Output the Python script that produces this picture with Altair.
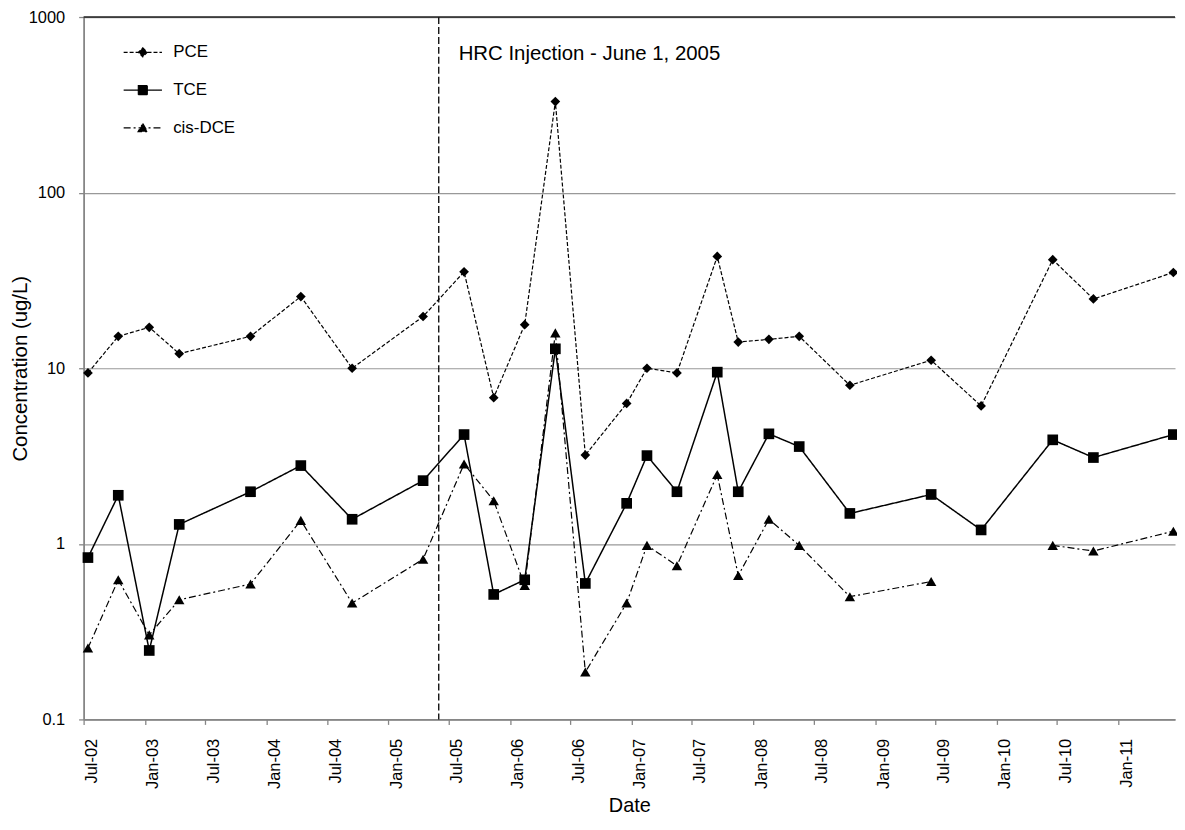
import altair as alt
import pandas as pd

# ---------------- data ----------------
DATES = ["2002-07-14", "2002-10-13", "2003-01-14", "2003-04-14", "2003-11-14",
         "2004-04-13", "2004-09-14", "2005-04-15", "2005-08-16", "2005-11-13",
         "2006-02-14", "2006-05-17", "2006-08-15", "2006-12-17", "2007-02-16",
         "2007-05-17", "2007-09-15", "2007-11-17", "2008-02-17", "2008-05-18",
         "2008-10-17", "2009-06-18", "2009-11-15", "2010-06-18", "2010-10-18",
         "2011-06-15"]
PCE = [9.4, 15.2, 17.1, 12.1, 15.2, 25.6, 10.0, 19.7, 35.4, 6.8, 17.7, 330,
       3.2, 6.3, 10.0, 9.4, 43.3, 14.1, 14.6, 15.2, 8.0, 11.1, 6.1, 41.5, 24.8, 35.1]
TCE = [0.835, 1.89, 0.247, 1.29, 1.98, 2.79, 1.38, 2.29, 4.19, 0.515, 0.624, 12.9,
       0.595, 1.70, 3.18, 1.98, 9.5, 1.98, 4.23, 3.58, 1.49, 1.91, 1.2, 3.91, 3.1, 4.19]
CIS_DCE = [0.255, 0.624, 0.303, 0.48, 0.59, 1.36, 0.46, 0.817, 2.85, 1.76, 0.58, 15.9,
           0.186, 0.46, 0.98, 0.75, 2.48, 0.66, 1.38, 0.98, 0.50, 0.61, None, 0.98, 0.91, 1.18]
SERIES = ["PCE", "TCE", "cis-DCE"]
Y_TICKS = [0.1, 1, 10, 100, 1000]
TICK_MONTHS = [(2002, 7), (2003, 1), (2003, 7), (2004, 1), (2004, 7), (2005, 1),
               (2005, 7), (2006, 1), (2006, 7), (2007, 1), (2007, 7), (2008, 1),
               (2008, 7), (2009, 1), (2009, 7), (2010, 1), (2010, 7), (2011, 1)]
X_START = (2002, 7, 1)
X_END = (2011, 6, 20)
INJECTION = (2005, 6, 1)
ANNOTATION = "HRC Injection - June 1, 2005"
TOP_LINE = [1000]

# ---------------- build table ----------------
rows = []
for name, vals in zip(SERIES, [PCE, TCE, CIS_DCE]):
    seg = 0
    for d, v in zip(DATES, vals):
        if v is None:
            seg += 1
            continue
        rows.append({"date": d + "T00:00:00", "value": v, "series": name, "seg": seg})
df = pd.DataFrame(rows)

FONT = "Liberation Sans"
GREY = "#868686"

def dt(t):
    return alt.DateTime(year=t[0], month=t[1], date=t[2] if len(t) > 2 else 1)

xscale = alt.Scale(domain=[dt(X_START), dt(X_END)], nice=False)
yscale = alt.Scale(type="log", domain=[0.1, 1000], nice=False)

xaxis = alt.Axis(values=[dt(t) for t in TICK_MONTHS], format="%b-%y", labelAngle=270,
                 labelAlign="right", labelBaseline="top", labelPadding=14,
                 labelFontSize=16.5, labelOverlap=False, labelFlush=False,
                 grid=False, ticks=True, tickSize=5, title="Date", titleFontSize=20,
                 titleY=93, titleBaseline="alphabetic")
yaxis = alt.Axis(values=Y_TICKS, format="~g", labelPadding=14, labelFontSize=16.5,
                 grid=True, tickSize=5, title="Concentration (ug/L)", titleFontSize=20.5,
                 titleAngle=270, titleX=-63, titleY=353, titleAlign="center",
                 titleBaseline="middle")

X = alt.X("date:T", scale=xscale, axis=xaxis)
Y = alt.Y("value:Q", scale=yscale, axis=yaxis)

DASHES = {"PCE": [4, 2], "TCE": [1, 0], "cis-DCE": [7, 3, 2, 3]}
WIDTHS = {"PCE": 1.2, "TCE": 1.5, "cis-DCE": 1.2}
SHAPES = {"PCE": "diamond", "TCE": "square", "cis-DCE": "triangle-up"}
SIZES = {"PCE": 95, "TCE": 115, "cis-DCE": 110}
LEGEND_PATHS = [
    "M-3.85,0H3.85M0,-0.9L0.9,0L0,0.9L-0.9,0Z",
    "M-3.85,0H3.85M-0.9,-0.9H0.9V0.9H-0.9Z",
    "M-3.85,0H3.85M0,-0.9L0.95,0.75H-0.95Z",
]

base = alt.Chart(df)

lines = [
    base.transform_filter(alt.datum.series == s)
    .mark_line(color="black", strokeDash=DASHES[s], strokeWidth=WIDTHS[s])
    .encode(x=X, y=Y, detail="seg:N")
    for s in SERIES
]
points = [
    base.transform_filter(alt.datum.series == s)
    .mark_point(filled=True, shape=SHAPES[s], size=SIZES[s], color="black", opacity=1)
    .encode(x=X, y=Y)
    for s in SERIES
]

leg = alt.Legend(orient="none", legendX=51, legendY=27, title=None, labelFontSize=17,
                 labelOffset=22, rowPadding=20, padding=0, labelFont=FONT,
                 labelColor="black", symbolStrokeWidth=1.2, symbolOpacity=1)
BLACKS = ["black", "black", "black"]
legend_layer = (
    base.transform_filter("false")
    .mark_point(filled=True, strokeWidth=1.2, size=144, opacity=1)
    .encode(
        shape=alt.Shape("series:N", scale=alt.Scale(domain=SERIES, range=LEGEND_PATHS), legend=leg),
        strokeDash=alt.StrokeDash("series:N", scale=alt.Scale(domain=SERIES, range=[DASHES[s] for s in SERIES]), legend=leg),
        fill=alt.Fill("series:N", scale=alt.Scale(domain=SERIES, range=BLACKS), legend=leg),
        stroke=alt.Stroke("series:N", scale=alt.Scale(domain=SERIES, range=BLACKS), legend=leg),
    )
)

one = pd.DataFrame({"label": [ANNOTATION], "top": TOP_LINE})
inj_rule = alt.Chart(one).mark_rule(color="black", strokeDash=[7, 3], strokeWidth=1.3).encode(
    x=alt.XDatum(dt(INJECTION), type="temporal", scale=xscale, axis=xaxis))
top_rule = alt.Chart(one).mark_rule(color="#1e1e1e", strokeWidth=1.6).encode(
    y=alt.Y("top:Q", scale=yscale, axis=yaxis))
annot = alt.Chart(one).mark_text(align="left", baseline="alphabetic", dx=20, fontSize=20.5,
                                 font=FONT, color="black").encode(
    x=alt.XDatum(dt(INJECTION), type="temporal", scale=xscale, axis=xaxis),
    y=alt.value(43), text="label:N")

chart = alt.layer(inj_rule, top_rule, *lines, *points, annot, legend_layer).properties(
    width=1097, height=706,
    padding={"left": 76, "top": 7, "right": 2, "bottom": 97},
    autosize="none",
    background="white",
).configure_view(stroke=None).configure_axis(
    labelFont=FONT, titleFont=FONT, labelColor="black", titleColor="black",
    titleFontWeight="normal", domainColor=GREY, domainWidth=1.8, tickColor=GREY,
    tickWidth=1.3, gridColor="#999999", gridWidth=1.2,
).configure_legend(labelFont=FONT)

chart.save("out.html", embed_options={"renderer": "svg", "actions": False})
